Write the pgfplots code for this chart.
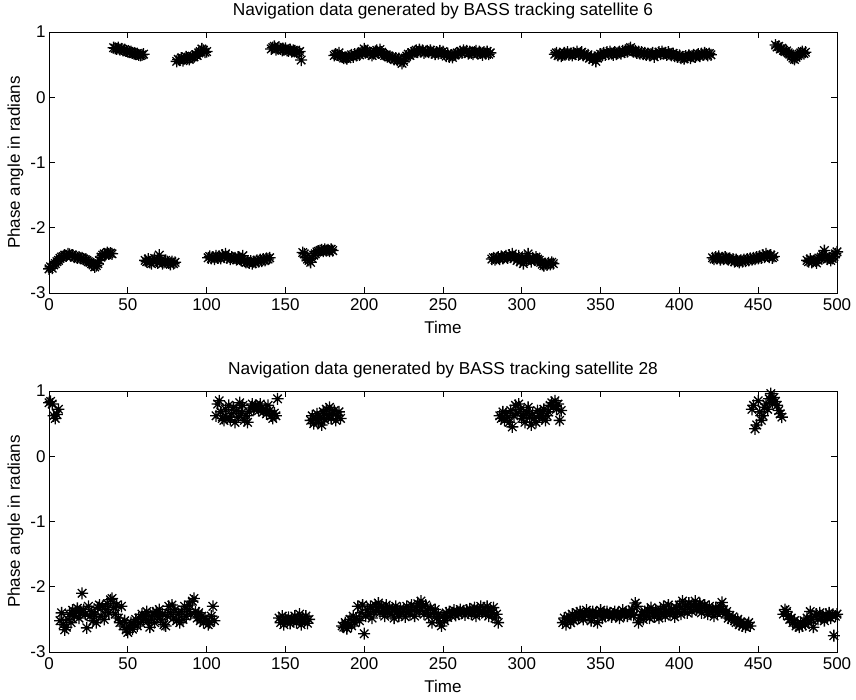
\documentclass[border=0pt]{standalone}
\usepackage{pgfplots}
\pgfplotsset{compat=1.18}
\usepackage{fontspec}
\setmainfont{Liberation Sans}
\pgfdeclareplotmark{mstar}{%
 \pgfpathmoveto{\pgfqpoint{-\pgfplotmarksize}{0pt}}\pgfpathlineto{\pgfqpoint{\pgfplotmarksize}{0pt}}%
 \pgfpathmoveto{\pgfqpoint{0pt}{-\pgfplotmarksize}}\pgfpathlineto{\pgfqpoint{0pt}{\pgfplotmarksize}}%
 \pgfpathmoveto{\pgfqpoint{-0.707\pgfplotmarksize}{-0.707\pgfplotmarksize}}\pgfpathlineto{\pgfqpoint{0.707\pgfplotmarksize}{0.707\pgfplotmarksize}}%
 \pgfpathmoveto{\pgfqpoint{-0.707\pgfplotmarksize}{0.707\pgfplotmarksize}}\pgfpathlineto{\pgfqpoint{0.707\pgfplotmarksize}{-0.707\pgfplotmarksize}}%
 \pgfusepathqstroke}
\pgfplotsset{
  navstyle/.style={
    width=788pt, height=261pt, scale only axis,
    xmin=0, xmax=500, ymin=-3, ymax=1,
    xtick={0,50,...,500},
    xticklabels={0,50,100,150,200,250,300,350,400,450,500},
    ytick={-3,-2,-1,0,1},
    yticklabels={-3,-2,-1,0,1},
    tick align=inside,
    major tick length=6pt,
    axis line style={line width=0.9pt},
    every tick/.style={black, line width=0.9pt},
    font=\fontsize{17}{20}\selectfont,
    xticklabel style={font=\fontsize{17}{20}\selectfont, yshift=-2pt},
    yticklabel style={font=\fontsize{17}{20}\selectfont},
    label style={font=\fontsize{17}{20}\selectfont},
    title style={font=\fontsize{17.3}{20}\selectfont, at={(0.5,1)}, anchor=south, yshift=3pt},
    xlabel={Time},
    ylabel={Phase angle in radians},
    xlabel style={yshift=-4pt},
    ylabel style={yshift=0pt},
  },
  navmark/.style={only marks, mark=mstar, mark size=6pt, line width=1.3pt, black},
}
\begin{document}
\begin{tikzpicture}
\useasboundingbox (0,0) rectangle (856pt,699pt);
\begin{axis}[navstyle, at={(49pt,406pt)}, anchor=south west,
  title={Navigation data generated by BASS tracking satellite 6}]
\addplot[navmark] coordinates {
(0,-2.63)(1,-2.60)(2,-2.62)(3,-2.57)(4,-2.55)(5,-2.52)(6,-2.50)(7,-2.47)(8,-2.45)(9,-2.44)
(10,-2.42)(11,-2.43)(12,-2.40)(13,-2.41)(14,-2.43)(15,-2.42)(16,-2.45)(17,-2.44)(18,-2.46)(19,-2.45)
(20,-2.47)(21,-2.46)(22,-2.48)(23,-2.49)(24,-2.50)(25,-2.52)(26,-2.53)(27,-2.55)(28,-2.57)(29,-2.60)
(30,-2.58)(31,-2.55)(32,-2.50)(33,-2.45)(34,-2.42)(35,-2.40)(36,-2.41)(37,-2.38)(38,-2.40)(39,-2.39)
(40,-2.40)
(41,0.76)(42,0.75)(43,0.74)(44,0.76)(45,0.73)(46,0.74)(47,0.72)(48,0.73)(49,0.71)(50,0.70)
(51,0.69)(52,0.70)(53,0.68)(54,0.67)(55,0.66)(56,0.67)(57,0.65)(58,0.64)(59,0.65)(60,0.66)
(61,-2.50)(62,-2.52)(63,-2.48)(64,-2.53)(65,-2.55)(66,-2.50)(67,-2.47)(68,-2.51)(69,-2.54)(70,-2.42)
(71,-2.50)(72,-2.55)(73,-2.53)(74,-2.50)(75,-2.52)(76,-2.54)(77,-2.56)(78,-2.52)(79,-2.55)(80,-2.53)
(81,0.55)(82,0.58)(83,0.57)(84,0.60)(85,0.56)(86,0.59)(87,0.62)(88,0.60)(89,0.58)(90,0.61)
(91,0.63)(92,0.62)(93,0.65)(94,0.64)(95,0.68)(96,0.70)(97,0.74)(98,0.72)(99,0.69)(100,0.70)
(101,-2.46)(102,-2.44)(103,-2.47)(104,-2.45)(105,-2.48)(106,-2.43)(107,-2.46)(108,-2.44)(109,-2.47)(110,-2.42)
(111,-2.45)(112,-2.40)(113,-2.46)(114,-2.44)(115,-2.48)(116,-2.45)(117,-2.47)(118,-2.46)(119,-2.49)(120,-2.45)
(121,-2.48)(122,-2.50)(123,-2.43)(124,-2.51)(125,-2.53)(126,-2.52)(127,-2.54)(128,-2.51)(129,-2.55)(130,-2.52)
(131,-2.53)(132,-2.50)(133,-2.52)(134,-2.49)(135,-2.51)(136,-2.48)(137,-2.50)(138,-2.47)(139,-2.48)(140,-2.46)
(141,0.74)(142,0.76)(143,0.78)(144,0.73)(145,0.75)(146,0.77)(147,0.74)(148,0.72)(149,0.73)(150,0.75)
(151,0.72)(152,0.71)(153,0.73)(154,0.70)(155,0.72)(156,0.71)(157,0.69)(158,0.68)(159,0.70)(160,0.57)
(161,-2.38)(162,-2.40)(163,-2.45)(164,-2.48)(165,-2.50)(166,-2.53)(167,-2.47)(168,-2.42)(169,-2.40)(170,-2.37)
(171,-2.36)(172,-2.35)(173,-2.34)(174,-2.36)(175,-2.33)(176,-2.35)(177,-2.34)(178,-2.36)(179,-2.33)(180,-2.35)
(181,0.64)(182,0.66)(183,0.65)(184,0.68)(185,0.63)(186,0.62)(187,0.60)(188,0.61)(189,0.59)(190,0.62)
(191,0.63)(192,0.65)(193,0.62)(194,0.66)(195,0.64)(196,0.67)(197,0.65)(198,0.68)(199,0.70)(200,0.74)
(201,0.71)(202,0.69)(203,0.66)(204,0.68)(205,0.64)(206,0.67)(207,0.70)(208,0.72)(209,0.68)(210,0.73)
(211,0.69)(212,0.66)(213,0.64)(214,0.65)(215,0.63)(216,0.62)(217,0.60)(218,0.61)(219,0.58)(220,0.60)
(221,0.57)(222,0.59)(223,0.56)(224,0.52)(225,0.55)(226,0.60)(227,0.63)(228,0.66)(229,0.64)(230,0.68)
(231,0.67)(232,0.70)(233,0.72)(234,0.69)(235,0.73)(236,0.70)(237,0.72)(238,0.68)(239,0.70)(240,0.71)
(241,0.69)(242,0.72)(243,0.68)(244,0.70)(245,0.66)(246,0.69)(247,0.67)(248,0.71)(249,0.68)(250,0.70)
(251,0.66)(252,0.63)(253,0.67)(254,0.62)(255,0.64)(256,0.61)(257,0.65)(258,0.66)(259,0.68)(260,0.67)
(261,0.70)(262,0.68)(263,0.72)(264,0.69)(265,0.71)(266,0.67)(267,0.70)(268,0.68)(269,0.66)(270,0.69)
(271,0.71)(272,0.67)(273,0.70)(274,0.68)(275,0.65)(276,0.69)(277,0.67)(278,0.70)(279,0.66)(280,0.68)
(281,-2.48)(282,-2.46)(283,-2.49)(284,-2.47)(285,-2.45)(286,-2.48)(287,-2.44)(288,-2.47)(289,-2.45)(290,-2.43)
(291,-2.46)(292,-2.42)(293,-2.45)(294,-2.40)(295,-2.47)(296,-2.44)(297,-2.50)(298,-2.43)(299,-2.52)(300,-2.48)
(301,-2.55)(302,-2.45)(303,-2.50)(304,-2.40)(305,-2.47)(306,-2.52)(307,-2.46)(308,-2.49)(309,-2.45)(310,-2.48)
(311,-2.50)(312,-2.53)(313,-2.56)(314,-2.58)(315,-2.55)(316,-2.57)(317,-2.54)(318,-2.56)(319,-2.53)(320,-2.55)
(321,0.66)(322,0.68)(323,0.64)(324,0.67)(325,0.63)(326,0.65)(327,0.68)(328,0.66)(329,0.69)(330,0.65)
(331,0.67)(332,0.64)(333,0.68)(334,0.66)(335,0.70)(336,0.65)(337,0.67)(338,0.69)(339,0.64)(340,0.66)
(341,0.63)(342,0.65)(343,0.60)(344,0.62)(345,0.58)(346,0.61)(347,0.55)(348,0.60)(349,0.63)(350,0.66)
(351,0.64)(352,0.68)(353,0.65)(354,0.69)(355,0.66)(356,0.70)(357,0.67)(358,0.65)(359,0.69)(360,0.66)
(361,0.68)(362,0.70)(363,0.67)(364,0.71)(365,0.69)(366,0.72)(367,0.70)(368,0.74)(369,0.76)(370,0.72)
(371,0.70)(372,0.71)(373,0.68)(374,0.70)(375,0.67)(376,0.69)(377,0.66)(378,0.68)(379,0.65)(380,0.67)
(381,0.64)(382,0.66)(383,0.68)(384,0.62)(385,0.67)(386,0.65)(387,0.69)(388,0.66)(389,0.70)(390,0.67)
(391,0.68)(392,0.65)(393,0.69)(394,0.66)(395,0.64)(396,0.67)(397,0.63)(398,0.65)(399,0.62)(400,0.64)
(401,0.60)(402,0.62)(403,0.59)(404,0.63)(405,0.61)(406,0.64)(407,0.60)(408,0.63)(409,0.65)(410,0.62)
(411,0.64)(412,0.66)(413,0.63)(414,0.67)(415,0.65)(416,0.68)(417,0.66)(418,0.64)(419,0.67)(420,0.65)
(421,-2.46)(422,-2.48)(423,-2.45)(424,-2.47)(425,-2.44)(426,-2.49)(427,-2.46)(428,-2.48)(429,-2.45)(430,-2.47)
(431,-2.49)(432,-2.47)(433,-2.50)(434,-2.48)(435,-2.52)(436,-2.49)(437,-2.51)(438,-2.53)(439,-2.50)(440,-2.52)
(441,-2.49)(442,-2.51)(443,-2.48)(444,-2.50)(445,-2.47)(446,-2.49)(447,-2.46)(448,-2.48)(449,-2.45)(450,-2.47)
(451,-2.44)(452,-2.46)(453,-2.42)(454,-2.45)(455,-2.40)(456,-2.43)(457,-2.45)(458,-2.42)(459,-2.46)(460,-2.44)
(461,0.80)(462,0.77)(463,0.78)(464,0.74)(465,0.75)(466,0.72)(467,0.70)(468,0.71)(469,0.68)(470,0.66)
(471,0.63)(472,0.60)(473,0.58)(474,0.61)(475,0.64)(476,0.66)(477,0.68)(478,0.70)(479,0.67)(480,0.69)
(481,-2.50)(482,-2.52)(483,-2.48)(484,-2.53)(485,-2.51)(486,-2.49)(487,-2.54)(488,-2.50)(489,-2.47)(490,-2.45)
(491,-2.42)(492,-2.35)(493,-2.45)(494,-2.48)(495,-2.46)(496,-2.50)(497,-2.47)(498,-2.44)(499,-2.40)(500,-2.37)
};
\end{axis}
\begin{axis}[navstyle, at={(49pt,47pt)}, anchor=south west,
  title={Navigation data generated by BASS tracking satellite 28}]
\addplot[navmark] coordinates {
(0,0.82)(1,0.84)(2,0.80)(3,0.62)(4,0.58)(5,0.64)(6,0.72)
(7,-2.52)(8,-2.40)(9,-2.58)(10,-2.66)
(11,-2.62)(12,-2.50)(13,-2.42)(14,-2.55)(15,-2.36)(16,-2.45)(17,-2.38)(18,-2.33)(19,-2.48)(20,-2.40)
(21,-2.10)(22,-2.35)(23,-2.42)(24,-2.63)(25,-2.30)(26,-2.45)(27,-2.38)(28,-2.52)(29,-2.42)(30,-2.55)
(31,-2.32)(32,-2.28)(33,-2.45)(34,-2.30)(35,-2.50)(36,-2.35)(37,-2.26)(38,-2.40)(39,-2.20)(40,-2.18)
(41,-2.32)(42,-2.42)(43,-2.28)(44,-2.48)(45,-2.55)(46,-2.30)(47,-2.60)(48,-2.52)(49,-2.66)(50,-2.70)
(51,-2.62)(52,-2.55)(53,-2.65)(54,-2.58)(55,-2.50)(56,-2.60)(57,-2.48)(58,-2.55)(59,-2.42)(60,-2.50)
(61,-2.45)(62,-2.38)(63,-2.52)(64,-2.62)(65,-2.48)(66,-2.40)(67,-2.55)(68,-2.38)(69,-2.45)(70,-2.35)
(71,-2.50)(72,-2.42)(73,-2.58)(74,-2.60)(75,-2.45)(76,-2.30)(77,-2.40)(78,-2.28)(79,-2.48)(80,-2.35)
(81,-2.52)(82,-2.42)(83,-2.55)(84,-2.38)(85,-2.50)(86,-2.30)(87,-2.45)(88,-2.35)(89,-2.28)(90,-2.42)
(91,-2.22)(92,-2.18)(93,-2.38)(94,-2.48)(95,-2.40)(96,-2.52)(97,-2.45)(98,-2.55)(99,-2.48)(100,-2.52)
(101,-2.58)(102,-2.55)(103,-2.45)(104,-2.30)(105,-2.52)
(106,0.62)(107,0.80)(108,0.85)(109,0.68)(110,0.58)(111,0.55)(112,0.72)(113,0.60)(114,0.78)(115,0.56)
(116,0.65)(117,0.75)(118,0.52)(119,0.70)(120,0.60)(121,0.82)(122,0.66)(123,0.78)(124,0.55)(125,0.62)
(126,0.52)(127,0.68)(128,0.74)(129,0.80)(130,0.72)(131,0.78)(132,0.76)(133,0.70)(134,0.80)(135,0.74)
(136,0.68)(137,0.72)(138,0.65)(139,0.78)(140,0.70)(141,0.62)(142,0.58)(143,0.66)(144,0.62)(145,0.88)
(146,-2.48)(147,-2.55)(148,-2.45)(149,-2.58)(150,-2.50)(151,-2.53)(152,-2.47)(153,-2.56)(154,-2.49)(155,-2.52)
(156,-2.45)(157,-2.55)(158,-2.50)(159,-2.42)(160,-2.58)(161,-2.48)(162,-2.53)(163,-2.45)(164,-2.56)(165,-2.50)
(166,0.55)(167,0.62)(168,0.50)(169,0.58)(170,0.65)(171,0.52)(172,0.60)(173,0.48)(174,0.68)(175,0.56)
(176,0.72)(177,0.62)(178,0.75)(179,0.58)(180,0.66)(181,0.70)(182,0.55)(183,0.62)(184,0.68)(185,0.58)
(186,-2.60)(187,-2.62)(188,-2.55)(189,-2.64)(190,-2.58)(191,-2.50)(192,-2.60)(193,-2.45)(194,-2.55)(195,-2.48)
(196,-2.30)(197,-2.52)(198,-2.40)(199,-2.28)(200,-2.72)(201,-2.45)(202,-2.35)(203,-2.42)(204,-2.30)(205,-2.48)
(206,-2.38)(207,-2.28)(208,-2.32)(209,-2.25)(210,-2.40)(211,-2.30)(212,-2.36)(213,-2.45)(214,-2.28)(215,-2.38)
(216,-2.32)(217,-2.42)(218,-2.35)(219,-2.48)(220,-2.30)(221,-2.38)(222,-2.45)(223,-2.33)(224,-2.40)(225,-2.35)
(226,-2.46)(227,-2.30)(228,-2.38)(229,-2.42)(230,-2.28)(231,-2.36)(232,-2.45)(233,-2.32)(234,-2.26)(235,-2.38)
(236,-2.22)(237,-2.30)(238,-2.42)(239,-2.28)(240,-2.36)(241,-2.45)(242,-2.33)(243,-2.55)(244,-2.40)(245,-2.35)
(246,-2.48)(247,-2.42)(248,-2.55)(249,-2.60)(250,-2.45)(251,-2.52)(252,-2.40)(253,-2.47)(254,-2.38)(255,-2.44)
(256,-2.40)(257,-2.36)(258,-2.44)(259,-2.38)(260,-2.42)(261,-2.35)(262,-2.40)(263,-2.37)(264,-2.43)(265,-2.36)
(266,-2.40)(267,-2.34)(268,-2.42)(269,-2.38)(270,-2.32)(271,-2.45)(272,-2.36)(273,-2.40)(274,-2.30)(275,-2.38)
(276,-2.34)(277,-2.42)(278,-2.30)(279,-2.45)(280,-2.36)(281,-2.40)(282,-2.32)(283,-2.48)(284,-2.42)(285,-2.55)
(286,0.62)(287,0.58)(288,0.68)(289,0.55)(290,0.65)(291,0.60)(292,0.52)(293,0.70)(294,0.45)(295,0.62)
(296,0.78)(297,0.66)(298,0.80)(299,0.72)(300,0.58)(301,0.62)(302,0.52)(303,0.68)(304,0.75)(305,0.60)
(306,0.48)(307,0.65)(308,0.58)(309,0.52)(310,0.70)(311,0.62)(312,0.66)(313,0.58)(314,0.72)(315,0.55)
(316,0.62)(317,0.68)(318,0.78)(319,0.82)(320,0.76)(321,0.85)(322,0.72)(323,0.80)(324,0.55)(325,0.70)
(326,-2.55)(327,-2.48)(328,-2.58)(329,-2.50)(330,-2.45)(331,-2.55)(332,-2.42)(333,-2.52)(334,-2.46)(335,-2.40)
(336,-2.48)(337,-2.38)(338,-2.45)(339,-2.50)(340,-2.42)(341,-2.36)(342,-2.44)(343,-2.40)(344,-2.52)(345,-2.38)
(346,-2.45)(347,-2.40)(348,-2.55)(349,-2.42)(350,-2.36)(351,-2.48)(352,-2.40)(353,-2.45)(354,-2.38)(355,-2.44)
(356,-2.40)(357,-2.46)(358,-2.42)(359,-2.38)(360,-2.45)(361,-2.40)(362,-2.48)(363,-2.42)(364,-2.36)(365,-2.44)
(366,-2.40)(367,-2.45)(368,-2.38)(369,-2.42)(370,-2.35)(371,-2.44)(372,-2.25)(373,-2.30)(374,-2.55)(375,-2.48)
(376,-2.42)(377,-2.50)(378,-2.38)(379,-2.45)(380,-2.36)(381,-2.48)(382,-2.32)(383,-2.40)(384,-2.46)(385,-2.36)
(386,-2.42)(387,-2.48)(388,-2.35)(389,-2.40)(390,-2.30)(391,-2.45)(392,-2.38)(393,-2.28)(394,-2.42)(395,-2.34)
(396,-2.40)(397,-2.46)(398,-2.32)(399,-2.38)(400,-2.28)(401,-2.42)(402,-2.22)(403,-2.35)(404,-2.30)(405,-2.40)
(406,-2.25)(407,-2.32)(408,-2.38)(409,-2.28)(410,-2.22)(411,-2.35)(412,-2.30)(413,-2.26)(414,-2.40)(415,-2.32)
(416,-2.28)(417,-2.36)(418,-2.42)(419,-2.30)(420,-2.38)(421,-2.34)(422,-2.45)(423,-2.32)(424,-2.40)(425,-2.36)
(426,-2.30)(427,-2.24)(428,-2.35)(429,-2.42)(430,-2.38)(431,-2.48)(432,-2.44)(433,-2.50)(434,-2.46)(435,-2.52)
(436,-2.55)(437,-2.50)(438,-2.58)(439,-2.54)(440,-2.60)(441,-2.56)(442,-2.62)(443,-2.58)(444,-2.55)(445,-2.60)
(446,0.72)(447,0.78)(448,0.42)(449,0.48)(450,0.85)(451,0.68)(452,0.55)(453,0.62)(454,0.75)(455,0.80)
(456,0.72)(457,0.88)(458,0.96)(459,0.82)(460,0.90)(461,0.84)(462,0.78)(463,0.70)(464,0.65)(465,0.60)
(466,-2.42)(467,-2.35)(468,-2.38)(469,-2.45)(470,-2.50)(471,-2.48)(472,-2.55)(473,-2.52)(474,-2.60)(475,-2.58)
(476,-2.62)(477,-2.55)(478,-2.60)(479,-2.52)(480,-2.58)(481,-2.48)(482,-2.55)(483,-2.38)(484,-2.50)(485,-2.62)
(486,-2.45)(487,-2.42)(488,-2.50)(489,-2.40)(490,-2.48)(491,-2.45)(492,-2.52)(493,-2.42)(494,-2.46)(495,-2.40)
(496,-2.48)(497,-2.44)(498,-2.75)(499,-2.45)(500,-2.42)
};
\end{axis}
\end{tikzpicture}
\end{document}
